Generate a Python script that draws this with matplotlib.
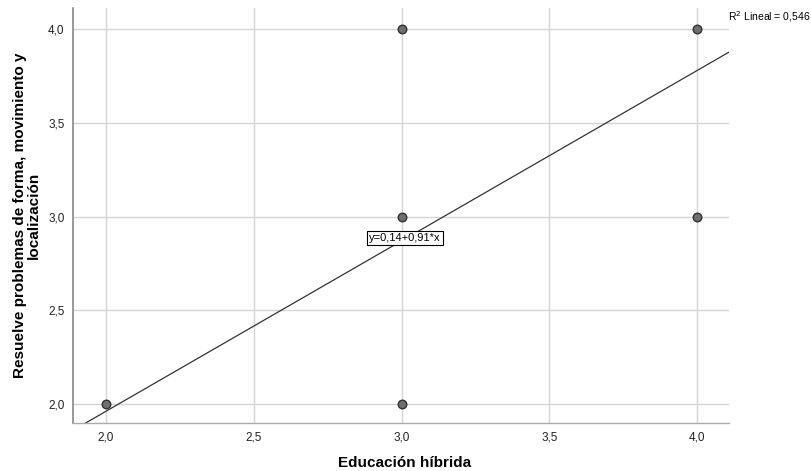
import matplotlib
matplotlib.use("Agg")
import matplotlib.pyplot as plt
import numpy as np

plt.rcParams['font.family'] = ['Liberation Sans', 'DejaVu Sans']

x_vals = [2.0, 3.0, 3.0, 3.0, 4.0, 4.0]
y_vals = [2.0, 2.0, 3.0, 4.0, 3.0, 4.0]
intercept = 0.14
slope = 0.91
r2_text = "R$^2$ Lineal = 0,546"
eq_text = "y=0,14+0,91*x"
x_ticks = [2.0, 2.5, 3.0, 3.5, 4.0]
y_ticks = [2.0, 2.5, 3.0, 3.5, 4.0]
x_label = "Educación híbrida"
y_label = "Resuelve problemas de forma, movimiento y\nlocalización"

fig = plt.figure(figsize=(8.11, 4.71), dpi=100)
ax = fig.add_axes([73/811, 1-423/471, (729-73)/811, (423-8)/471])
ax.set_xlim(1.888, 4.108)
ax.set_ylim(1.897, 4.114)

ax.set_xticks(x_ticks)
ax.set_yticks(y_ticks)
ax.set_xticklabels([f"{v:.1f}".replace('.', ',') for v in x_ticks])
ax.set_yticklabels([f"{v:.1f}".replace('.', ',') for v in y_ticks])
ax.tick_params(length=0, labelsize=8.5, colors='#222222', pad=6)
ax.grid(True, color='#d4d4d4', linewidth=1.0)
ax.set_axisbelow(True)
for s in ['top', 'right']:
    ax.spines[s].set_visible(False)
ax.spines['left'].set_color('#888888')
ax.spines['bottom'].set_color('#aaaaaa')
ax.spines['left'].set_linewidth(1.2)
ax.spines['bottom'].set_linewidth(1.0)

xl = np.array([1.8, 4.2])
ax.plot(xl, intercept + slope * xl, color='#333333', linewidth=0.9, zorder=2)
ax.scatter(x_vals, y_vals, s=38, facecolor='#6e6e6e', edgecolor='#333333', linewidth=1.0, zorder=3)

ax.text(3.011, 2.885, eq_text, fontsize=8, ha='center', va='center',
        bbox=dict(boxstyle='square,pad=0.2', facecolor='white', edgecolor='black', linewidth=0.8), zorder=4)
fig.text(728/811, 1-17/471, r2_text, fontsize=7.5, ha='left', va='center')

fig.text(405/811, 1-463/471, x_label, fontsize=11, fontweight='bold', ha='center', va='center')
fig.text(27/811, 1-215/471, y_label, fontsize=11, fontweight='bold', ha='center', va='center',
         rotation=90, linespacing=0.95)

fig.savefig("out.png", dpi=100)
